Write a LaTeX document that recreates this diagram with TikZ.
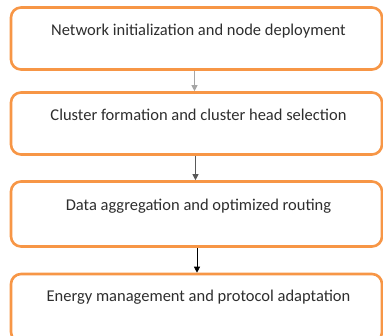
\documentclass[tikz,border=0pt]{standalone}
\usepackage{fontspec}
\setmainfont{Carlito}
\usetikzlibrary{arrows.meta}
\definecolor{boxorange}{HTML}{F79646}
\definecolor{textgray}{HTML}{2E2E2E}
\tikzset{
  stepbox/.style={draw=boxorange, line width=2.6pt, rounded corners=10pt, fill=white,
    minimum width=371pt, minimum height=62pt, inner sep=0pt},
  steptext/.style={font=\fontsize{16.5}{18}\selectfont, text=textgray, anchor=center, inner sep=0pt},
  flowarrow/.style={line width=0.8pt, -{Triangle[length=6pt,width=6pt]}},
}
\begin{document}
\begin{tikzpicture}[x=1pt,y=-1pt]
\useasboundingbox (0,0) rectangle (383,335);
\node[stepbox, label={[steptext, yshift=-25pt, xshift=2pt]north:Network initialization and node deployment}] (b1) at (196.5,38.5) {};
\node[stepbox, label={[steptext, yshift=-24pt, xshift=2pt]north:Cluster formation and cluster head selection}] (b2) at (196.5,123.5) {};
\node[stepbox, minimum height=65pt, label={[steptext, yshift=-26pt, xshift=2pt]north:Data aggregation and optimized routing}] (b3) at (196.5,214) {};
\node[stepbox, minimum height=68pt, label={[steptext, yshift=-24pt, xshift=2pt]north:Energy management and protocol adaptation}] (b4) at (196.5,308) {};
\draw[flowarrow, draw=gray!70, fill=black] ([xshift=-2pt]b1.south) -- ([xshift=-2pt]b2.north);
\draw[flowarrow, draw=gray!70!black, fill=black] ([xshift=-1pt]b2.south) -- ([xshift=-1pt]b3.north);
\draw[flowarrow, draw=black] ([xshift=0.5pt]b3.south) -- ([xshift=0.5pt]b4.north);
\end{tikzpicture}
\end{document}
